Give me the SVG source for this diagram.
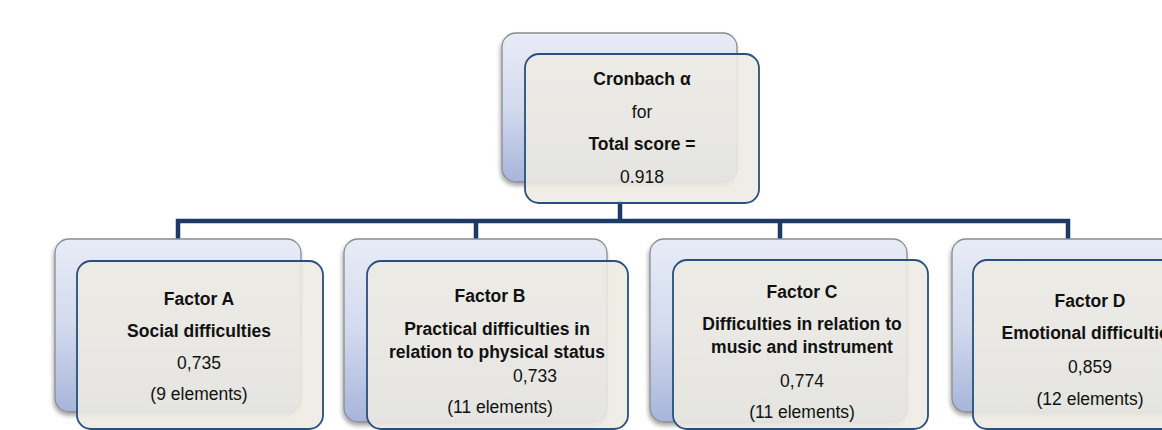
<svg xmlns="http://www.w3.org/2000/svg" width="1162" height="430" viewBox="0 0 1162 430">
<defs>
<linearGradient id="bg" x1="0" y1="0" x2="0" y2="1">
<stop offset="0" stop-color="#e9ecf7"/>
<stop offset="0.5" stop-color="#d3daee"/>
<stop offset="1" stop-color="#a6b5da"/>
</linearGradient>
<filter id="sh" x="-10%" y="-10%" width="120%" height="125%">
<feGaussianBlur in="SourceAlpha" stdDeviation="2"/>
<feOffset dx="-1" dy="3"/>
<feComponentTransfer><feFuncA type="linear" slope="0.35"/></feComponentTransfer>
<feMerge><feMergeNode/><feMergeNode in="SourceGraphic"/></feMerge>
</filter>
<style>
.back{fill:url(#bg);stroke:#8c8c8c;stroke-width:1.3;filter:url(#sh)}
.front{fill:#edebe3;fill-opacity:0.88;stroke:#274f80;stroke-width:1.8}
.conn{fill:none;stroke:#1c3a63;stroke-width:4.5;stroke-linecap:square}
text{font-family:"Liberation Sans",Arial,sans-serif;font-size:17.5px;fill:#111;text-anchor:middle}
.b{font-weight:bold}
</style>
</defs>
<g id="connectors">
<path class="conn" d="M620,203 V221 M178,221 H1068 M178,221 V238 M476,221 V238 M780,221 V238 M1068,221 V238"/>
</g>
<g id="node-total">
<rect class="back" x="502" y="33" width="235" height="149" rx="14"/>
<rect class="front" x="525" y="54" width="234" height="149" rx="14"/>
<text class="b" x="642" y="85">Cronbach α</text>
<text x="642" y="118">for</text>
<text class="b" x="642" y="150">Total score =</text>
<text x="642" y="183">0.918</text>
</g>
<g id="node-a">
<rect class="back" x="55" y="239" width="246" height="173" rx="14"/>
<rect class="front" x="77" y="261" width="246" height="168" rx="14"/>
<text class="b" x="199" y="305">Factor A</text>
<text class="b" x="199" y="337">Social difficulties</text>
<text x="199" y="369">0,735</text>
<text x="199" y="400">(9 elements)</text>
</g>
<g id="node-b">
<rect class="back" x="344" y="239" width="263" height="183" rx="14"/>
<rect class="front" x="367" y="261" width="261" height="168" rx="14"/>
<text class="b" x="490" y="302">Factor B</text>
<text class="b" x="497" y="335">Practical difficulties in</text>
<text class="b" x="497" y="358">relation to physical status</text>
<text x="535" y="382">0,733</text>
<text x="500" y="413">(11 elements)</text>
</g>
<g id="node-c">
<rect class="back" x="650" y="239" width="257" height="183" rx="14"/>
<rect class="front" x="673" y="260" width="255" height="169" rx="14"/>
<text class="b" x="802" y="298">Factor C</text>
<text class="b" x="802" y="330">Difficulties in relation to</text>
<text class="b" x="802" y="353">music and instrument</text>
<text x="802" y="387">0,774</text>
<text x="802" y="418">(11 elements)</text>
</g>
<g id="node-d">
<rect class="back" x="952" y="239" width="257" height="173" rx="14"/>
<rect class="front" x="973" y="260" width="255" height="169" rx="14"/>
<text class="b" x="1090" y="307">Factor D</text>
<text class="b" x="1090" y="339">Emotional difficulties</text>
<text x="1090" y="373">0,859</text>
<text x="1090" y="405">(12 elements)</text>
</g>
</svg>
